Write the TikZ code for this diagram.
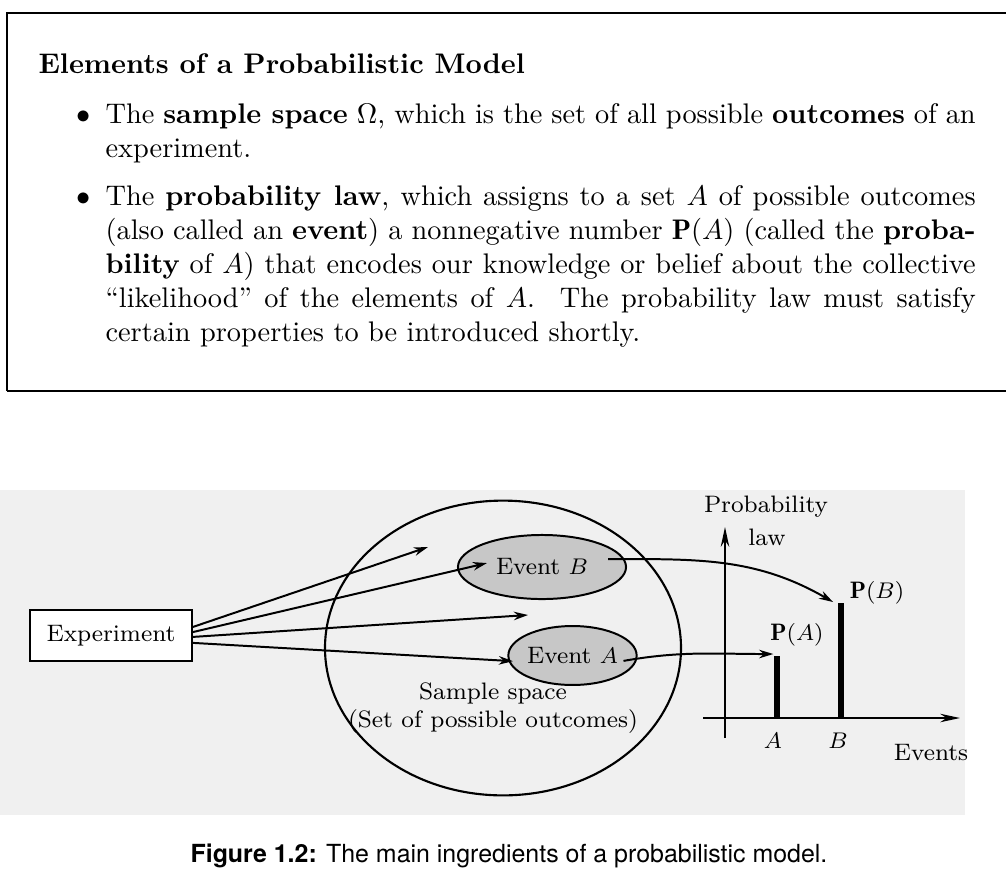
\documentclass[tikz,border=0pt]{standalone}
\usepackage{amsmath,amssymb}
\usepackage{fontspec}
\newfontfamily\capfont{TeX Gyre Heros}
\usetikzlibrary{positioning,arrows.meta,shapes.geometric}

\newcommand\fullline[1]{\makebox[307pt][s]{#1}}

\begin{document}
\begin{tikzpicture}[
          x=0.3528pt, y=-0.3528pt,
          txt/.style={anchor=base west, inner sep=0pt},
          fig/.style={font=\fontsize{8.4}{10}\selectfont, inner sep=0pt},
          ev/.style={draw, ellipse, line width=0.7pt, fill=black!22,
                     inner sep=0pt, font=\fontsize{8.4}{10}\selectfont},
          arr/.style={-{Stealth[length=5pt,width=3pt]}, line width=0.7pt},
          axis/.style={-{Stealth[length=7pt,width=3pt]}, line width=0.6pt},
          bar/.style={line width=2.3pt}
        ]
        \useasboundingbox (0,0) rectangle (1006,890);

        % framed box
        \draw[line width=0.7pt] (1006,13) -- (7,13) -- (7,391);
        \draw[line width=1pt] (7,391) -- (1006,391);

        \node[txt, font=\bfseries] (title) at (38,73)
              {Elements of a Probabilistic Model};
        \node[txt] (dotA) at (76,123) {$\bullet$};
        \node[txt] (itemA1) at (105,123) {\fullline{The \textbf{sample space} $\Omega$, which is the set of all possible \textbf{outcomes} of an}};
        \node[txt] (itemA2) at (105,157) {experiment.};
        \node[txt] (dotB) at (76,205) {$\bullet$};
        \node[txt] (itemB1) at (105,205) {\fullline{The \textbf{probability law}, which assigns to a set $A$ of possible outcomes}};
        \node[txt] (itemB2) at (105,239) {\fullline{(also called an \textbf{event}) a nonnegative number $\mathbf{P}(A)$ (called the \textbf{proba-}}};
        \node[txt] (itemB3) at (105,273) {\fullline{\textbf{bility} of $A$) that encodes our knowledge or belief about the collective}};
        \node[txt] (itemB4) at (105,307) {\fullline{``likelihood'' of the elements of $A$.\ \ The probability law must satisfy}};
        \node[txt] (itemB5) at (105,341) {certain properties to be introduced shortly.};

        % figure background
        \fill[black!6] (0,490) rectangle (965,815);

        \node[draw, line width=0.7pt, fill=white, minimum width=57pt,
              minimum height=18pt, fig] (exp) at (111,635.5) {Experiment};
        \node[draw, ellipse, line width=0.75pt, minimum width=125.6pt,
              minimum height=104pt] (space) at (503,648) {};
        \node[ev, minimum width=59.3pt, minimum height=22.6pt] (evB)
              at (542,567) {Event $B$};
        \node[ev, minimum width=44.8pt, minimum height=20.8pt] (evA)
              at (572.5,655.5) {Event $A$};
        \node[fig, align=center] (spacelbl) at (493,708)
              {Sample space\\(Set of possible outcomes)};

        % outcomes
        \coordinate (t1) at (428,547);
        \coordinate (t3) at (528,615);
        \draw[arr] ([yshift=3pt]exp.east) -- (t1);
        \draw[arr] ([yshift=1.2pt]exp.east) -- ([xshift=10.6pt,yshift=1.4pt]evB.west);
        \draw[arr] ([yshift=-0.5pt]exp.east) -- (t3);
        \draw[arr] ([yshift=-2.6pt]exp.east) -- ([xshift=2pt,yshift=-2pt]evA.west);

        % probability law
        \coordinate (ytop) at (725,527);
        \coordinate (ybot) at (725,738);
        \coordinate (xleft) at (703,718);
        \coordinate (xright) at (960,718);
        \draw[axis] (ybot) -- (ytop);
        \draw[axis] (xleft) -- (xright);
        \coordinate (Atop) at (777,656);
        \coordinate (Btop) at (841,603);
        \draw[bar] (Atop) -- (Atop |- xleft);
        \draw[bar] (Btop) -- (Btop |- xleft);

        \draw[arr] ([xshift=-5pt,yshift=-1.9pt]evA.east) to[out=10,in=180]
          ([xshift=-1.3pt,yshift=0.7pt]Atop);
        \draw[arr] ([xshift=-6.7pt,yshift=2.8pt]evB.east) to[out=0,in=150]
          ([xshift=-2.8pt,yshift=0.35pt]Btop);

        \node[fig] (problbl) at (766,507) {Probability};
        \node[fig] (lawlbl) at (767,537) {law};
        \node[fig] (pB) at (877,593) {$\mathbf{P}(B)$};
        \node[fig] (pA) at (797,635) {$\mathbf{P}(A)$};
        \node[fig] (lblA) at (773,741) {$A$};
        \node[fig] (lblB) at (838,741) {$B$};
        \node[fig] (evlbl) at (931,753) {Events};

        \node[anchor=base, inner sep=0pt, font=\capfont\fontsize{8.8}{11}\selectfont]
          (caption) at (509,862)
          {\textbf{Figure 1.2:} The main ingredients of a probabilistic model.};
      \end{tikzpicture}
\end{document}
